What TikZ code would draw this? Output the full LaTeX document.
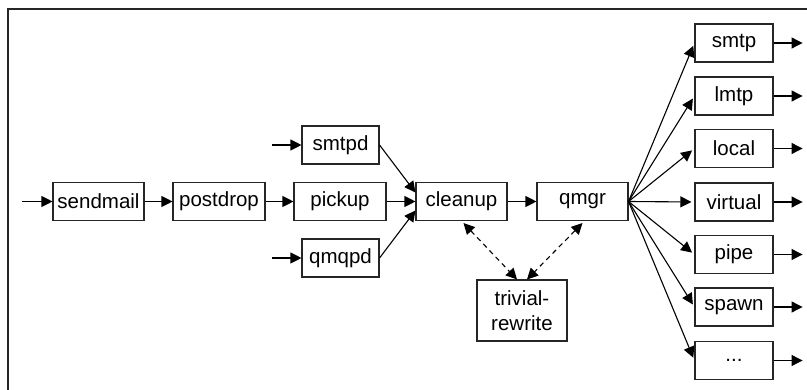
\documentclass[tikz,border=0pt]{standalone}
\usepackage{fontspec}
\setmainfont{Liberation Sans}
\usetikzlibrary{arrows.meta,calc}
\begin{document}
\begin{tikzpicture}[x=1pt,y=-1pt,
  box/.style={draw=black!85,line width=1.1pt,minimum height=38pt,inner sep=0pt,
    font=\fontsize{20.5}{25}\selectfont,align=center},
  conn/.style={line width=1.1pt,-{Triangle[length=11pt,width=11pt]}},
  dconn/.style={conn,{Triangle[length=11pt,width=11pt]}-{Triangle[length=11pt,width=11pt]},dash pattern=on 5pt off 4pt}]
\useasboundingbox (0,0) rectangle (807,390);
\draw[line width=1.5pt,black!85] (807,9) -- (8,9) -- (8,390);
% main row
\node[box,minimum width=91pt] (sendmail) at (98.5,201.5) {sendmail};
\node[box,minimum width=92pt] (postdrop) at (219,201.5) {postdrop};
\node[box,minimum width=92pt] (pickup) at (340,201.5) {pickup};
\node[box,minimum width=77pt] (smtpd) at (340.5,145) {smtpd};
\node[box,minimum width=77pt] (qmqpd) at (340.5,258) {qmqpd};
\node[box,minimum width=91pt] (cleanup) at (461.5,201.5) {cleanup};
\node[box,minimum width=91pt] (qmgr) at (582.5,201.5) {qmgr};
\node[box,minimum width=90pt,minimum height=61pt] (trivial) at (522,310.5) {trivial-\\rewrite};
% right column
\node[box,minimum width=78pt] (smtp) at (734,43) {smtp};
\node[box,minimum width=78pt] (lmtp) at (734,96) {lmtp};
\node[box,minimum width=78pt] (local) at (734,148.5) {local};
\node[box,minimum width=78pt] (virtual) at (734,202) {virtual};
\node[box,minimum width=78pt] (pipe) at (734,254.5) {pipe};
\node[box,minimum width=78pt] (spawn) at (734,307) {spawn};
\node[box,minimum width=78pt] (more) at (734,360.5) {{...}};
\foreach \n in {smtp,lmtp,local,virtual,pipe,spawn,more}{
  \coordinate (\n out) at ([xshift=29pt]\n.east);
  \draw[conn] (\n) -- (\n out);
  \draw[conn,shorten >=3pt] (qmgr.east) -- (\n.west);
}
% free ends
\coordinate (in1) at (22,201.5);
\coordinate (in2) at (272,145);
\coordinate (in3) at (272,258);
\draw[conn] (in1) -- (sendmail);
\draw[conn] (in2) -- (smtpd);
\draw[conn] (in3) -- (qmqpd);
\draw[conn] (sendmail) -- (postdrop);
\draw[conn] (postdrop) -- (pickup);
\draw[conn] (pickup) -- (cleanup);
\draw[conn] (smtpd.east) -- ([yshift=9pt]cleanup.west);
\draw[conn] (qmqpd.east) -- ([yshift=-9pt]cleanup.west);
\draw[conn] (cleanup) -- (qmgr);
\draw[dconn] ([xshift=2pt,yshift=-2pt]cleanup.south) -- ([xshift=-5pt]trivial.north);
\draw[dconn] ([yshift=-2pt]qmgr.south) -- ([xshift=5pt]trivial.north);
\end{tikzpicture}
\end{document}
